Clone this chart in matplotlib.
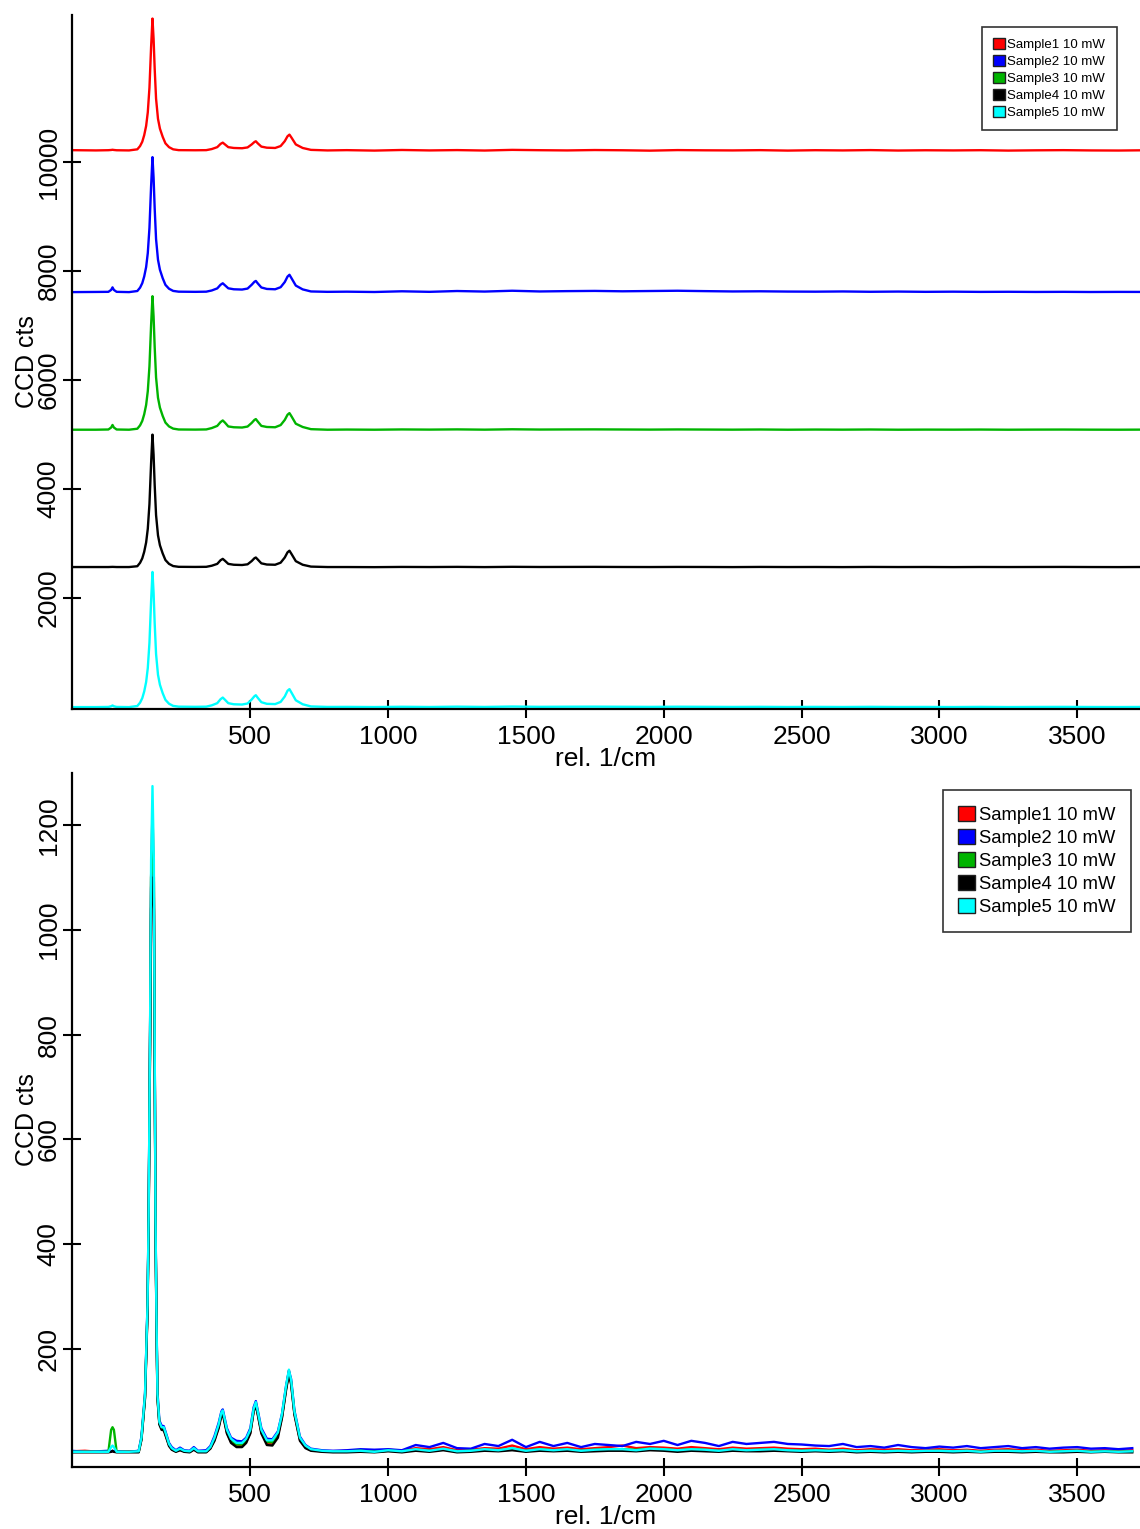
import numpy as np
import matplotlib.pyplot as plt
from matplotlib.patches import Patch

plt.rcParams['font.family'] = ['Liberation Sans', 'DejaVu Sans']

labels = ['Sample1 10 mW', 'Sample2 10 mW', 'Sample3 10 mW', 'Sample4 10 mW', 'Sample5 10 mW']
colors = ['#ff0000', '#0000ff', '#00b400', '#000000', '#00ffff']

# ---- top panel: stacked spectra (offset display) ----
top_offsets = [10215, 7615, 5090, 2570, 0]
top_x = [-150, -60, -15, -5, 0, 5, 15, 60,
         90, 100, 108, 115, 122, 128, 134, 140, 145, 149, 153, 158, 165, 172, 182, 192, 205, 220,
         240, 300, 340, 360, 380,
         392, 400, 408, 420, 440, 470, 490, 505, 515, 520,
         527, 540, 560, 590, 610, 625, 635, 642, 650, 665,
         690, 720, 780]
top_noise_x = np.arange(850, 3751, 100)

top_s1 = [5, 0, 4, 8, 12, 8, 3, 0,
          20, 80, 160, 280, 450, 700, 1150, 1900, 2420, 2050, 1500, 950, 580, 400, 250, 130, 60, 20,
          5, 3, 5, 25, 60,
          120, 143, 110, 60, 45, 40, 55, 110, 155, 168,
          130, 70, 50, 45, 80, 170, 260, 290, 230, 110,
          45, 10, 0]
top_s2 = [0, 3, 5, 40, 87, 40, 5, 0,
          20, 82, 165, 287, 460, 717, 1178, 1945, 2477, 2100, 1536, 973, 594, 410, 256, 133, 62, 22,
          8, 5, 8, 30, 68,
          135, 162, 125, 70, 52, 47, 65, 135, 190, 205,
          160, 85, 58, 52, 90, 185, 285, 318, 250, 120,
          50, 12, 5]
top_s3 = [0, 0, 4, 40, 87, 40, 4, 0,
          18, 80, 162, 283, 455, 708, 1163, 1923, 2450, 2075, 1518, 961, 587, 405, 253, 131, 60, 20,
          4, 2, 5, 30, 70,
          140, 170, 130, 60, 45, 40, 58, 125, 180, 195,
          150, 70, 50, 45, 85, 180, 275, 305, 240, 110,
          50, 10, 0]
top_s4 = [0, 0, 0, 2, 3, 2, 0, 0,
          15, 78, 160, 280, 452, 702, 1155, 1908, 2430, 2058, 1506, 953, 582, 400, 250, 128, 58, 18,
          4, 2, 4, 24, 58,
          125, 150, 115, 58, 42, 37, 50, 110, 162, 175,
          138, 68, 46, 42, 80, 175, 270, 300, 235, 108,
          42, 8, 0]
top_s5 = [0, 0, 3, 15, 30, 15, 3, 0,
          20, 82, 165, 287, 461, 717, 1179, 1948, 2480, 2101, 1537, 974, 594, 410, 256, 133, 62, 22,
          8, 5, 8, 32, 72,
          145, 175, 135, 72, 52, 47, 66, 140, 200, 218,
          170, 90, 60, 55, 95, 195, 300, 330, 260, 125,
          52, 12, 3]

top_n1 = [5, -3, 8, 0, 6, -2, 10, 4, 0, 7, 3, -4, 6, 2, 0, 5, -3, 4, 0, 6, -2, 3, 0, 4, -3, 2, 5, 0, -2, 3]
top_n2 = [8, 2, 15, 5, 20, 10, 25, 12, 18, 22, 15, 20, 25, 18, 12, 15, 10, 8, 12, 6, 10, 5, 8, 4, 6, 3, 5, 2, 4, 3]
top_n3 = [3, 0, 5, 2, 6, 1, 8, 3, 5, 6, 4, 2, 5, 3, 1, 4, 0, 3, 1, 4, 0, 2, 1, 3, 0, 2, 3, 1, 0, 2]
top_n4 = [0, -2, 2, 0, 3, -1, 4, 1, 2, 3, 1, 0, 2, 1, -1, 2, 0, 1, -1, 2, 0, 1, -1, 1, 0, 1, 2, 0, -1, 1]
top_n5 = [4, 1, 6, 2, 8, 3, 10, 5, 7, 8, 6, 4, 7, 5, 3, 5, 2, 4, 2, 5, 2, 3, 1, 4, 1, 3, 4, 2, 1, 3]

# ---- bottom panel: overlaid spectra ----
bot_x = [-150, -100, -50, -15, -5, 0, 5, 15, 60,
         95, 105, 118, 127, 131, 136, 140, 145, 150, 153, 156, 159, 163, 170, 178, 186, 195, 205, 215, 230,
         245, 260, 280, 295, 310, 340, 355, 370, 385, 395,
         400, 405, 415, 430, 450, 470, 485, 500, 512, 520,
         527, 540, 560, 580, 600, 615, 630, 640, 648, 660,
         680, 700, 720, 760, 800]
bot_noise_x = np.arange(850, 3701, 50)

bot_s1 = [4, 5, 3, 4, 3, 4, 3, 3, 4,
          4, 28, 108, 275, 440, 770, 1100, 1230, 1090, 770, 440, 275, 108, 58, 48, 47, 32, 16, 8, 4,
          7, 4, 3, 8, 3, 3, 10, 26, 50, 74,
          80, 66, 40, 22, 14, 14, 22, 40, 82, 96,
          76, 40, 20, 18, 34, 70, 125, 158, 135, 76,
          26, 12, 6, 4, 3]
bot_s2 = [5, 3, 4, 5, 3, 5, 4, 4, 3,
          5, 32, 115, 285, 455, 790, 1080, 1150, 1060, 780, 450, 285, 118, 63, 53, 52, 37, 20, 12, 6,
          11, 6, 5, 12, 5, 6, 14, 33, 58, 80,
          84, 72, 48, 30, 24, 23, 30, 48, 88, 100,
          82, 48, 28, 27, 42, 76, 130, 158, 142, 82,
          32, 16, 9, 6, 5]
bot_s3 = [3, 3, 3, 3, 45, 50, 45, 3, 3,
          3, 28, 110, 278, 445, 780, 1100, 1180, 1100, 780, 445, 278, 110, 58, 48, 48, 33, 17, 9, 4,
          8, 4, 3, 9, 3, 3, 11, 28, 52, 75,
          78, 67, 42, 25, 17, 17, 25, 42, 82, 95,
          78, 42, 22, 21, 37, 72, 126, 155, 137, 78,
          28, 13, 7, 4, 3]
bot_s4 = [2, 2, 2, 2, 3, 5, 3, 2, 2,
          2, 26, 105, 270, 435, 760, 1040, 1100, 1040, 760, 435, 270, 105, 55, 45, 44, 30, 14, 7, 3,
          6, 3, 2, 7, 2, 2, 9, 24, 48, 72,
          75, 63, 38, 20, 12, 12, 20, 38, 80, 92,
          74, 38, 16, 15, 30, 68, 122, 152, 132, 74,
          24, 10, 5, 3, 2]
bot_s5 = [3, 3, 3, 3, 12, 15, 12, 3, 3,
          4, 30, 113, 283, 453, 793, 1134, 1275, 1134, 793, 453, 283, 113, 60, 50, 50, 35, 18, 10, 5,
          9, 5, 4, 10, 4, 4, 12, 30, 55, 78,
          82, 70, 45, 28, 20, 20, 28, 45, 85, 98,
          80, 45, 25, 25, 40, 75, 130, 160, 140, 80,
          30, 15, 8, 5, 4]

bot_n1 = [5, 6, 4, 7, 5, 10, 8, 12, 6, 7, 10, 9, 15, 8, 12, 9, 11, 8, 10, 12,
          15, 10, 12, 11, 9, 12, 10, 8, 11, 9, 10, 11, 9, 8, 9, 7, 9, 6, 8, 7,
          8, 6, 7, 8, 6, 7, 5, 7, 8, 6, 7, 5, 6, 7, 5, 6, 5, 6]
bot_n2 = [6, 8, 7, 8, 6, 16, 12, 20, 10, 9, 18, 14, 26, 12, 22, 14, 20, 12, 18, 16,
          14, 22, 18, 24, 16, 24, 20, 14, 22, 18, 20, 22, 18, 17, 15, 14, 18, 12, 14, 11,
          16, 12, 10, 13, 11, 14, 10, 12, 14, 10, 12, 9, 11, 12, 9, 10, 8, 10]
bot_n3 = [4, 5, 3, 5, 4, 7, 5, 8, 4, 5, 7, 6, 9, 5, 8, 6, 7, 5, 7, 8,
          8, 7, 9, 8, 6, 8, 7, 5, 7, 6, 7, 7, 6, 5, 6, 5, 6, 4, 5, 4,
          5, 4, 4, 5, 4, 5, 3, 4, 5, 4, 4, 3, 4, 5, 3, 4, 3, 4]
bot_n4 = [2, 3, 2, 4, 2, 5, 3, 6, 2, 3, 5, 4, 6, 3, 5, 4, 5, 3, 4, 5,
          5, 4, 6, 5, 3, 5, 4, 3, 5, 4, 4, 5, 4, 3, 4, 3, 4, 2, 3, 2,
          3, 2, 3, 3, 2, 3, 2, 3, 3, 2, 3, 2, 2, 3, 2, 3, 2, 2]
bot_n5 = [4, 5, 3, 6, 4, 8, 5, 9, 4, 5, 8, 6, 10, 5, 8, 6, 8, 5, 7, 8,
          8, 6, 9, 8, 6, 8, 7, 5, 8, 6, 7, 8, 6, 5, 6, 5, 6, 4, 5, 4,
          5, 4, 5, 5, 4, 5, 3, 5, 5, 4, 5, 3, 4, 5, 3, 4, 3, 4]

top_peaks = [top_s1, top_s2, top_s3, top_s4, top_s5]
top_noise = [top_n1, top_n2, top_n3, top_n4, top_n5]
bot_peaks = [bot_s1, bot_s2, bot_s3, bot_s4, bot_s5]
bot_noise = [bot_n1, bot_n2, bot_n3, bot_n4, bot_n5]

W, H = 1140, 1529
fig = plt.figure(figsize=(W / 100, H / 100), dpi=100)
ax1 = fig.add_axes([72 / W, 1 - 709 / H, (W - 72) / W, (709 - 15) / H])
ax2 = fig.add_axes([72 / W, 1 - 1467 / H, (W - 72) / W, (1467 - 773) / H])

x_top = np.concatenate([top_x, top_noise_x])
x_bot = np.concatenate([bot_x, bot_noise_x])
for i in range(5):
    y = np.concatenate([top_peaks[i], top_noise[i]]) + top_offsets[i]
    ax1.plot(x_top, y, color=colors[i], lw=1.7)
    yb = np.concatenate([bot_peaks[i], bot_noise[i]])
    ax2.plot(x_bot, yb, color=colors[i], lw=1.7)

ax1.set_ylim(-35, 12700)
ax1.set_yticks([2000, 4000, 6000, 8000, 10000])
ax2.set_ylim(-26, 1300)
ax2.set_yticks([200, 400, 600, 800, 1000, 1200])

for ax, fs_leg, lsp, bbox in [(ax1, 9.5, 0.3, (0.978, 0.983)), (ax2, 13.3, 0.27, (0.9916, 0.9755))]:
    ax.set_xlim(-147, 3728)
    ax.set_xticks([500, 1000, 1500, 2000, 2500, 3000, 3500])
    for s in ['top', 'right']:
        ax.spines[s].set_visible(False)
    for s in ['left', 'bottom']:
        ax.spines[s].set_linewidth(1.6)
    ax.tick_params(direction='inout', length=12.5, width=1.5, labelsize=19)
    ax.tick_params(axis='x', pad=5)
    ax.tick_params(axis='y', pad=2)
    for lab in ax.get_yticklabels():
        lab.set_rotation(90)
        lab.set_va('center')
    ax.set_xlabel('rel. 1/cm', fontsize=19, labelpad=-1)
    ax.set_ylabel('CCD cts', fontsize=18)
    ax.yaxis.set_label_coords(-0.031, 0.5)
    handles = [Patch(facecolor=c, edgecolor='#202020', lw=1.0) for c in colors]
    leg = ax.legend(handles, labels, loc='upper right', bbox_to_anchor=bbox,
                    fontsize=fs_leg, handlelength=0.9, handleheight=0.9,
                    handletextpad=0.2, labelspacing=lsp, borderpad=0.85,
                    fancybox=False, framealpha=1, borderaxespad=0)
    leg.get_frame().set_edgecolor('#333333')
    leg.get_frame().set_linewidth(1.2)

fig.savefig('out.png', dpi=100)
